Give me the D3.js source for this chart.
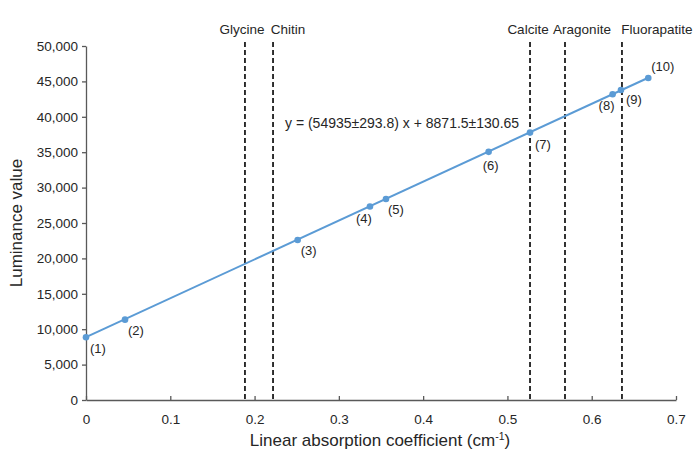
<!DOCTYPE html>
<html>
<head>
<meta charset="utf-8">
<script src="https://cdn.jsdelivr.net/npm/d3@7"></script>
<style>
  body { margin: 0; background: #fff; }
  text { font-family: "Liberation Sans", Arial, sans-serif; fill: #262626; }
</style>
</head>
<body>
<div id="chart"></div>
<script>
// data
var pointIds = [1, 2, 3, 4, 5, 6, 7, 8, 9, 10];
var coefX = [0, 0.0463, 0.2511, 0.3369, 0.3559, 0.4777, 0.5268, 0.6248, 0.6347, 0.6671];
var lumY = [8860, 11350, 22600, 27330, 28380, 35050, 37770, 43190, 43790, 45490];
var materials = ["Glycine", "Chitin", "Calcite", "Aragonite", "Fluorapatite"];
var materialX = [0.1886, 0.2219, 0.5268, 0.5683, 0.6359];
var slope = 54935, intercept = 8871.5;
var xTicks = [0, 0.1, 0.2, 0.3, 0.4, 0.5, 0.6, 0.7];
var yTicks = [0, 5000, 10000, 15000, 20000, 25000, 30000, 35000, 40000, 45000, 50000];

// label offsets per point (dx, dy)
var labelPos = [[4, 16], [3, 15], [3, 15], [-14, 16], [2, 15], [-6, 18], [5, 16], [-14, 16], [5, 14], [3, -7]];
// material label shift from its line
var materialShift = [-3, 15, -2, 17, 35];

var svgWidth = 700;
var svgHeight = 461;
var margin = { top: 46, right: 24, bottom: 61, left: 86 };
var width = svgWidth - margin.left - margin.right;
var height = svgHeight - margin.top - margin.bottom;

var svg = d3.select("#chart").append("svg")
    .attr("width", svgWidth)
    .attr("height", svgHeight);

var chartGroup = svg.append("g")
    .attr("transform", `translate(${margin.left},${margin.top})`);

var x = d3.scaleLinear().domain([0, 0.7]).range([0, 590]);
var y = d3.scaleLinear().domain([0, 50000]).range([height, 0]);

var bottomAxis = d3.axisBottom(x).tickValues(xTicks).tickSizeInner(-4).tickSizeOuter(0)
    .tickFormat(d => d === 0 ? "0" : d3.format(".1f")(d)).tickPadding(14);
var leftAxis = d3.axisLeft(y).tickValues(yTicks).tickSizeInner(4).tickSizeOuter(0)
    .tickFormat(d3.format(",")).tickPadding(4);

var gx = chartGroup.append("g").attr("transform", `translate(0,${height})`).call(bottomAxis);
var gy = chartGroup.append("g").call(leftAxis);
[gx, gy].forEach(function(g) {
  g.selectAll("path, line").attr("stroke", "#595959").attr("stroke-width", 1.3);
  g.selectAll("text").attr("font-size", "13.5px").attr("fill", "#262626");
});

// dashed material lines
materials.forEach(function(m, i) {
  chartGroup.append("line")
    .attr("x1", x(materialX[i])).attr("x2", x(materialX[i]))
    .attr("y1", -4).attr("y2", height)
    .attr("stroke", "#000").attr("stroke-width", 1.6)
    .attr("stroke-dasharray", "5,3");
  chartGroup.append("text")
    .attr("x", x(materialX[i]) + materialShift[i]).attr("y", -12)
    .attr("text-anchor", "middle")
    .attr("font-size", "13.5px").text(m);
});

// fitted line
var fitX = [0, d3.max(coefX)];
chartGroup.append("path")
    .datum(fitX)
    .attr("fill", "none").attr("stroke", "#5b9bd5").attr("stroke-width", 2)
    .attr("d", d3.line().x(d => x(d)).y(d => y(slope * d + intercept)));

// points
chartGroup.selectAll("circle.pt").data(pointIds).enter()
    .append("circle").attr("class", "pt")
    .attr("cx", (d, i) => x(coefX[i]))
    .attr("cy", (d, i) => y(lumY[i]))
    .attr("r", 3.3)
    .attr("fill", "#5b9bd5");

chartGroup.selectAll("text.lbl").data(pointIds).enter()
    .append("text").attr("class", "lbl")
    .attr("x", (d, i) => x(coefX[i]) + labelPos[i][0])
    .attr("y", (d, i) => y(lumY[i]) + labelPos[i][1])
    .attr("font-size", "13px")
    .text(d => "(" + d + ")");

// equation
chartGroup.append("text")
    .attr("x", 199).attr("y", 82)
    .attr("font-size", "14px")
    .text("y = (54935\u00b1293.8) x + 8871.5\u00b1130.65");

// axis titles
var xt = svg.append("text")
    .attr("x", margin.left + 294).attr("y", 446)
    .attr("text-anchor", "middle").attr("font-size", "17px");
xt.append("tspan").text("Linear absorption coefficient (cm");
xt.append("tspan").attr("font-size", "10.5px").attr("dy", -6).text("-1");
xt.append("tspan").attr("dy", 6).text(")");

svg.append("text")
    .attr("transform", "rotate(-90)")
    .attr("x", -223).attr("y", 22)
    .attr("text-anchor", "middle").attr("font-size", "17px")
    .text("Luminance value");
</script>
</body>
</html>
